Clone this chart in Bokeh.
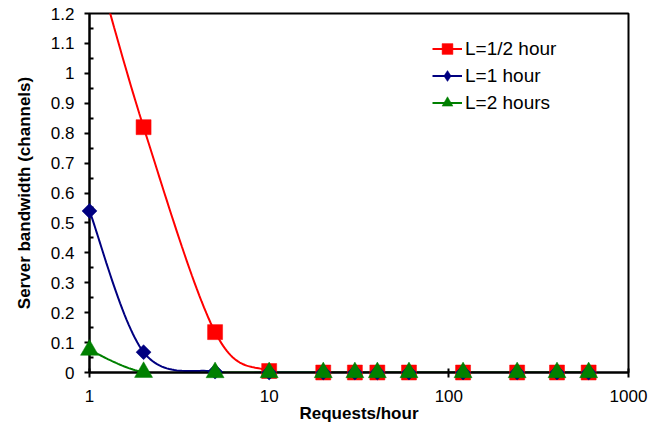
import numpy as np
from bokeh.plotting import figure
from bokeh.models import (Range1d, FixedTicker, CustomJSTickFormatter, Legend,
                          LegendItem)
from bokeh.embed import file_html
from bokeh.resources import INLINE

# ---- data ----
requests = [1, 2, 5, 10, 20, 30, 40, 60, 120, 240, 400, 600]
bw_half_hour = [1.45, 0.82, 0.135, 0.005, 0, 0, 0, 0, 0, 0, 0, 0]
bw_one_hour = [0.54, 0.068, 0.003, 0, 0, 0, 0, 0, 0, 0, 0, 0]
bw_two_hours = [0.075, 0.001, 0.0, 0, 0, 0, 0, 0, 0, 0, 0, 0]
series_labels = ["L=1/2 hour", "L=1 hour", "L=2 hours"]
series_colors = ["#FF0000", "#000080", "#008000"]

x_ticks = [1, 10, 100, 1000]
y_ticks = [0, 0.1, 0.2, 0.3, 0.4, 0.5, 0.6, 0.7, 0.8, 0.9, 1.0, 1.1, 1.2]
y_minor = [(a + b) / 2 for a, b in zip(y_ticks[:-1], y_ticks[1:])]
Y_MAX = 1.2

FONT = "Liberation Sans"


def smooth(xs, ys, n=30):
    """Excel-like smoothed line (Bezier through points) in log-x/linear-y space."""
    P = np.column_stack([np.log10(xs), np.asarray(ys, dtype=float)])
    parts = []
    m = len(P)
    for i in range(m - 1):
        p0 = P[i - 1] if i > 0 else P[i]
        p1, p2 = P[i], P[i + 1]
        p3 = P[i + 2] if i + 2 < m else P[i + 1]
        c1 = p1 + (p2 - p0) / 6.0
        c2 = p2 - (p3 - p1) / 6.0
        t = np.linspace(0, 1, n, endpoint=(i == m - 2))[:, None]
        b = ((1 - t) ** 3) * p1 + 3 * ((1 - t) ** 2) * t * c1 + 3 * (1 - t) * t ** 2 * c2 + t ** 3 * p2
        parts.append(b)
    B = np.vstack(parts)
    return list(10 ** B[:, 0]), list(B[:, 1])


p = figure(width=660, height=428, x_axis_type="log",
           x_range=Range1d(1, 1000), y_range=Range1d(0, Y_MAX),
           output_backend="svg", toolbar_location=None,
           min_border_left=89, min_border_right=32,
           min_border_top=13, min_border_bottom=56)
p.background_fill_color = "white"
p.border_fill_color = "white"
p.xgrid.visible = False
p.ygrid.visible = False
p.outline_line_color = "black"
p.outline_line_width = 2

# axes
xa = p.xaxis[0]
xa.ticker = FixedTicker(ticks=x_ticks, minor_ticks=[])
xa.formatter = CustomJSTickFormatter(code="return Math.round(tick).toString();")
xa.axis_label = "Requests/hour"
ya = p.yaxis[0]
ya.ticker = FixedTicker(ticks=y_ticks, minor_ticks=y_minor)
ya.formatter = CustomJSTickFormatter(code="return Number(tick.toFixed(1)).toString();")
ya.axis_label = "Server bandwidth (channels)"

for ax in (xa, ya):
    ax.axis_line_color = "black"
    ax.axis_line_width = 2
    ax.major_tick_line_color = "black"
    ax.major_tick_line_width = 2
    ax.minor_tick_line_color = "black"
    ax.minor_tick_line_width = 2
    ax.major_tick_out = 5
    ax.major_label_text_font = FONT
    ax.major_label_text_font_size = "17px"
    ax.major_label_text_color = "black"
    ax.axis_label_text_font = FONT
    ax.axis_label_text_font_size = "17px"
    ax.axis_label_text_font_style = "bold"
    ax.axis_label_text_color = "black"

xa.major_tick_in = 4
xa.major_label_standoff = 12
xa.axis_label_standoff = -1
ya.major_tick_in = 0
ya.minor_tick_in = 4
ya.minor_tick_out = 0
ya.major_label_standoff = 10
ya.axis_label_standoff = 14

markers = [dict(marker="square", size=15, angle=0.0, legend_marker="square"),
           dict(marker="square", size=10.6, angle=np.pi / 4, legend_marker="diamond"),
           dict(marker="triangle", size=18, angle=0.0, legend_marker="triangle")]

items = []
for ys, lab, col, mk in zip([bw_half_hour, bw_one_hour, bw_two_hours],
                            series_labels, series_colors, markers):
    sx, sy = smooth(requests, ys)
    rl = p.line(sx, sy, line_color=col, line_width=2)
    px = [x for x, y in zip(requests, ys) if y <= Y_MAX]
    py = [y for y in ys if y <= Y_MAX]
    rs = p.scatter(px, py, marker=mk["marker"], size=mk["size"], angle=mk["angle"],
                   fill_color=col, line_color=col, line_width=0.5)
    rs.level = "annotation"
    # marker used only for the legend swatch (a single NaN point, never drawn)
    rleg = p.scatter([np.nan], [np.nan], marker=mk["legend_marker"], size=mk["size"],
                     fill_color=col, line_color=col, line_width=0.5)
    items.append(LegendItem(label=lab, renderers=[rl, rleg]))

legend = Legend(items=items, location=(343, 256), padding=0, margin=0, spacing=0,
                glyph_width=30, glyph_height=27, label_height=27, label_standoff=3,
                label_text_font=FONT, label_text_font_size="19px",
                label_text_color="black", border_line_color=None,
                background_fill_alpha=0)
p.add_layout(legend)

open("out.html", "w").write(file_html(p, INLINE))
